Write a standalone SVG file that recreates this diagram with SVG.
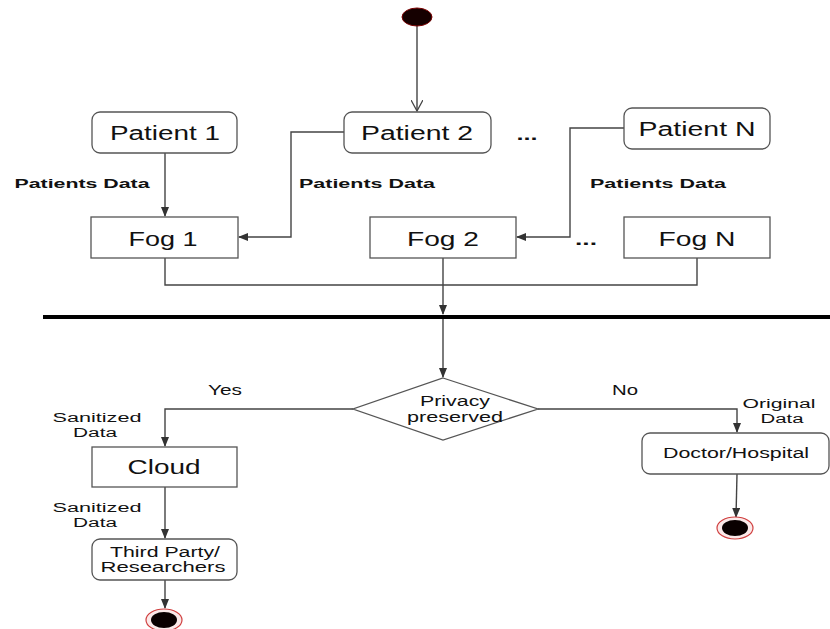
<svg xmlns="http://www.w3.org/2000/svg" width="830" height="629" viewBox="0 0 830 629">
<style>
.box{fill:#fff;stroke:#555;stroke-width:1.3}
.ln{fill:none;stroke:#444;stroke-width:1.4}
.t{font-family:"Liberation Sans",Arial,sans-serif;fill:#111;text-anchor:middle}
.big{font-size:20px}
.lbl{font-size:13px;font-weight:bold}
.sm{font-size:14px}
.two{font-size:12.5px}
.dots{font-size:16px;font-weight:bold}
</style>
<defs>
<marker id="ar" markerWidth="10" markerHeight="8" refX="9" refY="4" orient="auto" markerUnits="userSpaceOnUse">
<path d="M0,0 L10,4 L0,8 Z" fill="#333"/>
</marker>
<marker id="open" markerWidth="12" markerHeight="12" refX="11" refY="6" orient="auto" markerUnits="userSpaceOnUse">
<path d="M0,0 L11,6 L0,12" fill="none" stroke="#444" stroke-width="1.3"/>
</marker>
</defs>

<g id="connectors">
<line class="ln" x1="417" y1="25" x2="417" y2="111" marker-end="url(#open)"/>
<line class="ln" x1="165" y1="153" x2="165" y2="216" marker-end="url(#ar)"/>
<polyline class="ln" points="344,132 291,132 291,237 239,237" marker-end="url(#ar)"/>
<polyline class="ln" points="624,128 570,128 570,237 517,237" marker-end="url(#ar)"/>
<polyline class="ln" points="165,258 165,285 697,285 697,258"/>
<line class="ln" x1="443" y1="258" x2="443" y2="314" marker-end="url(#ar)"/>
<line class="ln" x1="443" y1="319" x2="443" y2="377" marker-end="url(#ar)"/>
<polyline class="ln" points="353,409 165,409 165,446" marker-end="url(#ar)"/>
<polyline class="ln" points="538,409 737,409 737,432" marker-end="url(#ar)"/>
<line class="ln" x1="165" y1="487" x2="165" y2="538" marker-end="url(#ar)"/>
<line class="ln" x1="165" y1="580" x2="165" y2="608" marker-end="url(#ar)"/>
<line class="ln" x1="737" y1="474" x2="736" y2="517" marker-end="url(#ar)"/>
</g>

<g id="bar"><rect x="43" y="315" width="787" height="4" fill="#000"/></g>

<g id="start"><ellipse cx="417" cy="17" rx="15" ry="9" fill="#150000" stroke="#7a0000" stroke-width="1"/></g>

<g id="patient1"><rect class="box" x="92" y="112" width="145" height="41" rx="8"/>
<text class="t big" x="165" y="140" textLength="110" lengthAdjust="spacingAndGlyphs">Patient 1</text></g>
<g id="patient2"><rect class="box" x="344" y="112" width="147" height="41" rx="8"/>
<text class="t big" x="417" y="140" textLength="112" lengthAdjust="spacingAndGlyphs">Patient 2</text></g>
<g id="patientN"><rect class="box" x="624" y="108" width="146" height="41" rx="8"/>
<text class="t big" x="697" y="136" textLength="117" lengthAdjust="spacingAndGlyphs">Patient N</text></g>

<g id="fog1"><rect class="box" x="91" y="217" width="147" height="41"/>
<text class="t big" x="163" y="246" textLength="69" lengthAdjust="spacingAndGlyphs">Fog 1</text></g>
<g id="fog2"><rect class="box" x="370" y="217" width="146" height="41"/>
<text class="t big" x="443" y="246" textLength="72" lengthAdjust="spacingAndGlyphs">Fog 2</text></g>
<g id="fogN"><rect class="box" x="624" y="217" width="146" height="41"/>
<text class="t big" x="697" y="246" textLength="77" lengthAdjust="spacingAndGlyphs">Fog N</text></g>

<g id="labels">
<text class="t lbl" x="82" y="188" textLength="135" lengthAdjust="spacingAndGlyphs">Patients Data</text>
<text class="t lbl" x="367" y="188" textLength="136" lengthAdjust="spacingAndGlyphs">Patients Data</text>
<text class="t lbl" x="658" y="188" textLength="136" lengthAdjust="spacingAndGlyphs">Patients Data</text>
<text class="t dots" x="527" y="140" textLength="21" lengthAdjust="spacingAndGlyphs">...</text>
<text class="t dots" x="586" y="245" textLength="22" lengthAdjust="spacingAndGlyphs">...</text>
<text class="t sm" x="225" y="395" textLength="34" lengthAdjust="spacingAndGlyphs">Yes</text>
<text class="t sm" x="625" y="395" textLength="26" lengthAdjust="spacingAndGlyphs">No</text>
<text class="t two" x="97" y="422" textLength="89" lengthAdjust="spacingAndGlyphs">Sanitized</text>
<text class="t two" x="95" y="437" textLength="44" lengthAdjust="spacingAndGlyphs">Data</text>
<text class="t two" x="97" y="512" textLength="89" lengthAdjust="spacingAndGlyphs">Sanitized</text>
<text class="t two" x="95" y="527" textLength="44" lengthAdjust="spacingAndGlyphs">Data</text>
<text class="t two" x="779" y="408" textLength="73" lengthAdjust="spacingAndGlyphs">Original</text>
<text class="t two" x="782" y="423" textLength="43" lengthAdjust="spacingAndGlyphs">Data</text>
</g>

<g id="decision"><polygon class="box" points="443,378 538,409 443,440 353,409"/>
<text class="t sm" x="455" y="406" textLength="70" lengthAdjust="spacingAndGlyphs">Privacy</text>
<text class="t sm" x="455" y="422" textLength="96" lengthAdjust="spacingAndGlyphs">preserved</text></g>

<g id="cloud"><rect class="box" x="92" y="447" width="145" height="40"/>
<text class="t big" x="164" y="474" textLength="73" lengthAdjust="spacingAndGlyphs">Cloud</text></g>

<g id="thirdparty"><rect class="box" x="92" y="539" width="145" height="41" rx="8"/>
<text class="t sm" x="165" y="557" textLength="110" lengthAdjust="spacingAndGlyphs">Third Party/</text>
<text class="t sm" x="163" y="572" textLength="125" lengthAdjust="spacingAndGlyphs">Researchers</text></g>

<g id="doctor"><rect class="box" x="642" y="433" width="187" height="41" rx="8"/>
<text class="t sm" x="736" y="458" textLength="146" lengthAdjust="spacingAndGlyphs">Doctor/Hospital</text></g>

<g id="end1"><ellipse cx="735" cy="528" rx="18" ry="11" fill="#fbe9e9" stroke="#d04040" stroke-width="1.2"/>
<ellipse cx="735" cy="528" rx="13" ry="8" fill="#0a0000"/></g>
<g id="end2"><ellipse cx="164" cy="620" rx="18" ry="11" fill="#fbe9e9" stroke="#d04040" stroke-width="1.2"/>
<ellipse cx="164" cy="620" rx="13" ry="8" fill="#0a0000"/></g>
</svg>
